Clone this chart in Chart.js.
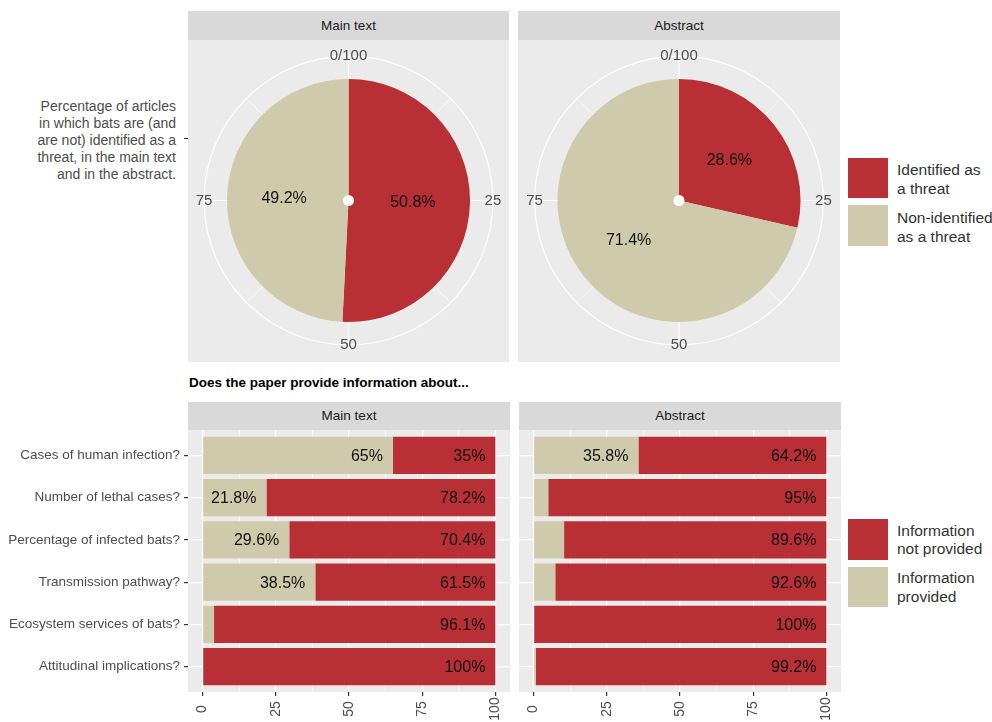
<!DOCTYPE html>
<html><head><meta charset="utf-8">
<script src="https://cdn.jsdelivr.net/npm/chart.js@4.4.1/dist/chart.umd.min.js"></script>
<style>
body{margin:0;width:992px;height:722px;background:#fff;position:relative;overflow:hidden;font-family:"Liberation Sans",Arial,sans-serif;}
.strip{position:absolute;background:#D9D9D9;color:#1A1A1A;font-size:13.5px;text-align:center;}
canvas{position:absolute;}
.key{position:absolute;width:40px;}
.ltxt{position:absolute;left:897px;font-size:15.5px;color:#333;white-space:nowrap;}
</style></head>
<body>
<div class="strip" style="left:188px;top:11px;width:321px;height:29px;line-height:29px;">Main text</div>
<div class="strip" style="left:518px;top:11px;width:322px;height:29px;line-height:29px;">Abstract</div>
<canvas id="pieMain" width="321" height="322" style="left:188px;top:40px;width:321px;height:322px;"></canvas>
<canvas id="pieAbs" width="322" height="322" style="left:518px;top:40px;width:322px;height:322px;"></canvas>
<div style="position:absolute;left:0;top:98px;width:176px;text-align:right;font-size:14px;line-height:17px;color:#4D4D4D;">Percentage of articles<br>in which bats are (and<br>are not) identified as a<br>threat, in the main text<br>and in the abstract.</div>
<div style="position:absolute;left:184px;top:138px;width:4px;height:1.2px;background:#333;"></div>
<div class="key" style="left:848px;top:158px;height:40px;background:#B83035;"></div>
<div class="key" style="left:848px;top:205px;height:41px;background:#CFCAAC;"></div>
<div class="ltxt" style="top:160px;line-height:19px;">Identified as<br>a threat</div>
<div class="ltxt" style="top:207.5px;line-height:19px;">Non-identified<br>as a threat</div>

<div style="position:absolute;left:189px;top:375px;font-size:13.5px;font-weight:bold;color:#000;white-space:nowrap;">Does the paper provide information about...</div>
<div class="strip" style="left:188px;top:402px;width:322px;height:28px;line-height:28px;">Main text</div>
<div class="strip" style="left:519px;top:402px;width:322px;height:28px;line-height:28px;">Abstract</div>
<canvas id="barMain" width="510" height="292" style="left:0px;top:430px;width:510px;height:292px;"></canvas>
<canvas id="barAbs" width="322" height="292" style="left:519px;top:430px;width:322px;height:292px;"></canvas>
<div class="key" style="left:848px;top:519px;height:41px;background:#B83035;"></div>
<div class="key" style="left:848px;top:567px;height:40px;background:#CFCAAC;"></div>
<div class="ltxt" style="top:521.5px;line-height:18.5px;">Information<br>not provided</div>
<div class="ltxt" style="top:567.5px;line-height:19px;">Information<br>provided</div>

<script>
// ---- data ----
const pieCategories = ['Identified as a threat', 'Non-identified as a threat'];
const pieMainValues = [50.8, 49.2];
const pieAbsValues = [28.6, 71.4];
const pieTickValues = [0, 25, 50, 75];
const pieTickLabels = ['0/100', '25', '50', '75'];

const categories = ['Cases of human infection?', 'Number of lethal cases?', 'Percentage of infected bats?', 'Transmission pathway?', 'Ecosystem services of bats?', 'Attitudinal implications?'];
const mainProvided = [65, 21.8, 29.6, 38.5, 3.9, 0];
const mainNotProvided = [35, 78.2, 70.4, 61.5, 96.1, 100];
const absProvided = [35.8, 5, 10.4, 7.4, 0, 0.8];
const absNotProvided = [64.2, 95, 89.6, 92.6, 100, 99.2];
const xTickValues = [0, 25, 50, 75, 100];
const xTickLabels = ['0', '25', '50', '75', '100'];

// ---- style ----
const RED = '#B83035', BEIGE = '#CFCAAC', PANEL = '#EBEBEB';
Chart.defaults.font.family = '"Liberation Sans", Arial, sans-serif';
Chart.defaults.animation = false;

const piePlugin = {
  id: 'piePanel',
  beforeDatasetsDraw(chart) {
    const ctx = chart.ctx;
    const arc = chart.getDatasetMeta(0).data[0];
    const cx = arc.x, cy = arc.y, R = arc.outerRadius * 145 / 122;
    ctx.save();
    ctx.fillStyle = PANEL;
    ctx.fillRect(0, 0, chart.width, chart.height);
    ctx.strokeStyle = '#fff';
    const all = [];
    pieTickValues.forEach(v => { all.push([v, 1.2]); all.push([v + 12.5, 0.6]); });
    all.forEach(([v, w]) => {
      const a = v / 100 * 2 * Math.PI - Math.PI / 2;
      ctx.lineWidth = w;
      ctx.beginPath();
      ctx.moveTo(cx, cy);
      ctx.lineTo(cx + R * Math.cos(a), cy + R * Math.sin(a));
      ctx.stroke();
    });
    ctx.lineWidth = 1.2;
    ctx.beginPath();
    ctx.arc(cx, cy, R, 0, 2 * Math.PI);
    ctx.stroke();
    ctx.restore();
  },
  afterDatasetsDraw(chart) {
    const ctx = chart.ctx;
    const meta = chart.getDatasetMeta(0);
    const arc0 = meta.data[0];
    const cx = arc0.x, cy = arc0.y, r0 = arc0.outerRadius, R = r0 * 145 / 122;
    ctx.save();
    ctx.fillStyle = '#fff';
    ctx.beginPath();
    ctx.arc(cx, cy, 5.5, 0, 2 * Math.PI);
    ctx.fill();
    ctx.textAlign = 'center';
    ctx.textBaseline = 'middle';
    ctx.font = '15px "Liberation Sans", Arial, sans-serif';
    ctx.fillStyle = '#4D4D4D';
    pieTickValues.forEach((v, i) => {
      const a = v / 100 * 2 * Math.PI - Math.PI / 2;
      ctx.fillText(pieTickLabels[i], cx + R * Math.cos(a), cy + R * Math.sin(a));
    });
    ctx.font = '16px "Liberation Sans", Arial, sans-serif';
    ctx.fillStyle = '#111';
    const vals = chart.data.datasets[0].data;
    meta.data.forEach((el, i) => {
      const a = (el.startAngle + el.endAngle) / 2;
      ctx.fillText(vals[i].toFixed(1) + '%', cx + r0 * 0.53 * Math.cos(a), cy + r0 * 0.53 * Math.sin(a));
    });
    ctx.restore();
  }
};

function makePie(id, values) {
  new Chart(document.getElementById(id), {
    type: 'pie',
    data: { labels: pieCategories, datasets: [{ data: values, backgroundColor: [RED, BEIGE], borderWidth: 0 }] },
    options: {
      responsive: false,
      layout: { padding: { left: 39, right: 39, top: 39, bottom: 40 } },
      plugins: { legend: { display: false }, tooltip: { enabled: false } }
    },
    plugins: [piePlugin]
  });
}
makePie('pieMain', pieMainValues);
makePie('pieAbs', pieAbsValues);

const barPlugin = {
  id: 'barPanel',
  beforeDraw(chart) {
    const a = chart.chartArea, ctx = chart.ctx;
    ctx.save();
    ctx.fillStyle = PANEL;
    ctx.fillRect(a.left, a.top, a.right - a.left, a.bottom - a.top);
    ctx.restore();
  },
  afterDatasetsDraw(chart) {
    const ctx = chart.ctx;
    ctx.save();
    ctx.font = '16px "Liberation Sans", Arial, sans-serif';
    ctx.fillStyle = '#111';
    ctx.textAlign = 'right';
    ctx.textBaseline = 'middle';
    chart.data.datasets.forEach((ds, di) => {
      const meta = chart.getDatasetMeta(di);
      meta.data.forEach((el, i) => {
        const v = ds.data[i].x;
        if (v >= 15) ctx.fillText(v + '%', el.x - 10, el.y + 1);
      });
    });
    ctx.restore();
  },
  afterDraw(chart) {
    // x-axis tick labels, rotated 90° and centred on the tick (ggplot hjust = 0.5)
    const ctx = chart.ctx, xs = chart.scales.x;
    ctx.save();
    ctx.font = '14px "Liberation Sans", Arial, sans-serif';
    ctx.fillStyle = '#4D4D4D';
    ctx.textAlign = 'center';
    ctx.textBaseline = 'middle';
    xTickValues.forEach((v, i) => {
      ctx.save();
      ctx.translate(xs.getPixelForValue(v), chart.chartArea.bottom + 17);
      ctx.rotate(-Math.PI / 2);
      ctx.fillText(xTickLabels[i], 0, 0);
      ctx.restore();
    });
    ctx.restore();
  }
};

function makeBar(id, provided, notProvided, showLabels) {
  const minorTicks = [];
  xTickValues.forEach((v, i) => { minorTicks.push(v); if (i < xTickValues.length - 1) minorTicks.push((v + xTickValues[i + 1]) / 2); });
  new Chart(document.getElementById(id), {
    type: 'bar',
    data: {
      datasets: [
        { label: 'Information provided', data: provided.map((v, i) => ({ x: v, y: i })), backgroundColor: BEIGE, borderWidth: 0 },
        { label: 'Information not provided', data: notProvided.map((v, i) => ({ x: v, y: i })), backgroundColor: RED, borderWidth: 0 }
      ]
    },
    options: {
      responsive: false,
      indexAxis: 'y',
      layout: { padding: 0 },
      datasets: { bar: { barPercentage: 0.88, categoryPercentage: 1 } },
      plugins: { legend: { display: false }, tooltip: { enabled: false } },
      scales: {
        x: {
          type: 'linear', stacked: true, min: -5, max: 105, offset: false,
          afterBuildTicks: s => { s.ticks = minorTicks.map(v => ({ value: v })); },
          afterFit: s => { s.height = 30; s.paddingLeft = 0; s.paddingRight = 0; },
          ticks: { display: false, autoSkip: false },
          grid: {
            offset: false,
            color: '#fff',
            lineWidth: c => (c.tick && xTickValues.includes(c.tick.value)) ? 1.2 : 0.6,
            tickColor: c => (c.tick && xTickValues.includes(c.tick.value)) ? '#333' : 'rgba(0,0,0,0)',
            tickWidth: 1.2, tickLength: 4, drawTicks: true
          },
          border: { display: false }
        },
        y: {
          type: 'linear', stacked: true, min: -0.6, max: 5.6, reverse: true, offset: false,
          afterBuildTicks: s => { s.ticks = categories.map((c, i) => ({ value: i })); },
          afterFit: s => { s.width = showLabels ? 188 : 0; s.paddingTop = 0; s.paddingBottom = 0; },
          ticks: {
            display: showLabels, autoSkip: false, padding: 4,
            color: '#4D4D4D', font: { size: 13.5 },
            callback: v => categories[v]
          },
          grid: {
            offset: false,
            color: '#fff', lineWidth: 1.2,
            drawTicks: showLabels, tickLength: 4, tickColor: '#333', tickWidth: 1.2
          },
          border: { display: false }
        }
      }
    },
    plugins: [barPlugin]
  });
}
makeBar('barMain', mainProvided, mainNotProvided, true);
makeBar('barAbs', absProvided, absNotProvided, false);
</script>
</body></html>
